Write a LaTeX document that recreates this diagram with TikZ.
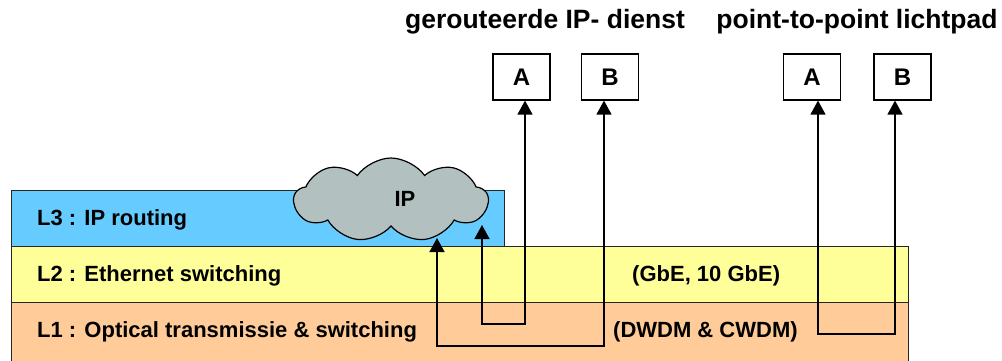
\documentclass[tikz,border=0pt]{standalone}
\usepackage{fontspec}
\setmainfont{Liberation Sans}
\usetikzlibrary{arrows.meta,shapes.symbols}
\definecolor{lthree}{RGB}{102,204,255}
\definecolor{ltwo}{RGB}{255,255,153}
\definecolor{lone}{RGB}{255,204,153}
\definecolor{cloudgray}{RGB}{178,192,192}
\tikzset{
  layer/.style={draw=black!85, line width=1pt},
  lbl/.style={anchor=west, inner sep=0pt, font=\fontsize{22}{26}\selectfont\bfseries},
  title/.style={inner sep=0pt, font=\fontsize{26.5}{30}\selectfont\bfseries},
  endpoint/.style={draw=black, line width=1.2pt, fill=white, minimum width=57pt,
    minimum height=46pt, inner sep=0pt, font=\fontsize{24}{28}\selectfont\bfseries},
  link/.style={draw=black, line width=1.4pt, >={Triangle[width=15pt,length=14pt]}, <->},
}
\begin{document}
\begin{tikzpicture}[x=1pt,y=-1pt]
\useasboundingbox (0,0) rectangle (1002,360);
% protocol layers
\path[layer, fill=lthree] (11,190) rectangle (504,246);
\path[layer, fill=ltwo] (11,246) rectangle (908,302);
\path[layer, fill=lone] (11,302) rectangle (908,362);
\node[lbl] (l3) at (37,220) {L3 : IP routing};
\node[lbl] (l2) at (37,276) {L2 : Ethernet switching};
\node[lbl] (l1) at (37,332) {L1 : Optical transmissie \& switching};
\node[lbl] (l2r) at (632,276) {(GbE, 10 GbE)};
\node[lbl] (l1r) at (613,332) {(DWDM \& CWDM)};
% IP cloud
\node[cloud, cloud puffs=9, cloud puff arc=110, aspect=2.4, draw=black, line width=1.2pt,
  fill=cloudgray, minimum width=194pt, minimum height=84pt, inner sep=0pt] (ip) at (391,200) {};
\node[font=\fontsize{22}{26}\selectfont\bfseries, inner sep=0pt] (iplbl) at (405,199) {IP};
% service titles and end points
\node[title] (t1) at (545,22) {gerouteerde IP- dienst};
\node[title] (t2) at (857,22) {point-to-point lichtpad};
\node[endpoint] (a1) at (521.5,77) {A};
\node[endpoint] (b1) at (610,77) {B};
\node[endpoint] (a2) at (812,77) {A};
\node[endpoint] (b2) at (902.5,77) {B};
\coordinate (ipa) at (482,225);
\coordinate (ipb) at (437,238);
% routed IP service paths
\draw[link] (ipa) -- (482,324) -| ([xshift=3.5pt]a1.south);
\draw[link] (ipb) -- (437,346) -| ([xshift=-6pt]b1.south);
% point-to-point lightpath
\draw[link] ([xshift=6pt]a2.south) |- (856,334) -| ([xshift=-7.5pt]b2.south);
\end{tikzpicture}
\end{document}
